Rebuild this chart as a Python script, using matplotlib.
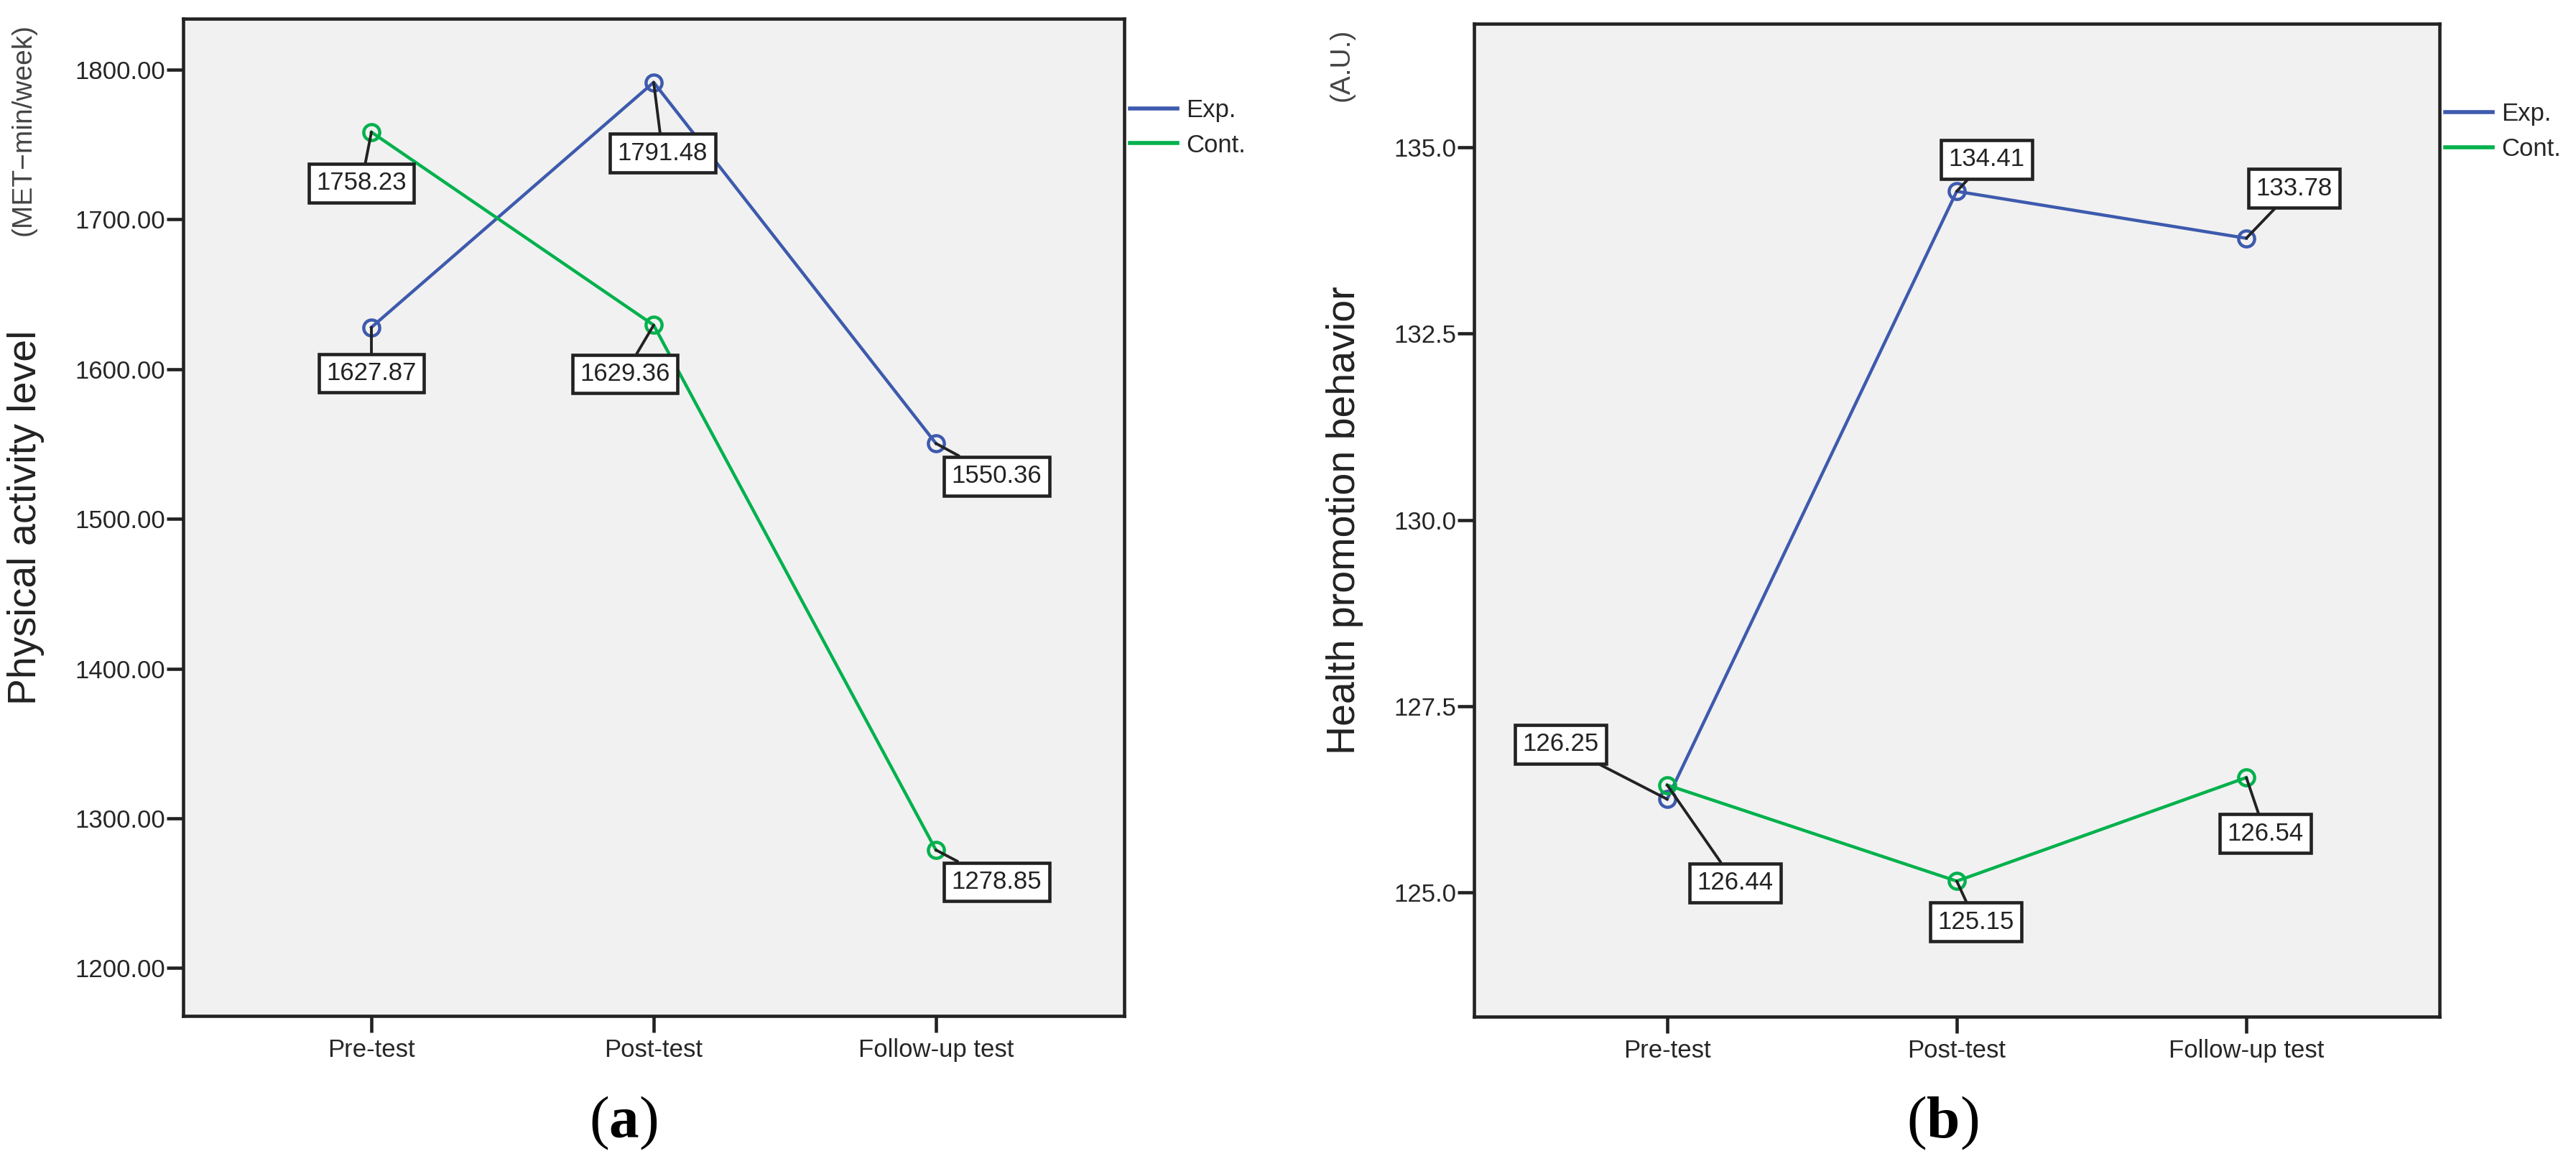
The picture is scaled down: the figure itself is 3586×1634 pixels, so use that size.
import matplotlib
matplotlib.use('Agg')
import matplotlib.pyplot as plt
from matplotlib.lines import Line2D
from matplotlib.ticker import FormatStrFormatter, MultipleLocator

# data
tests = ['Pre-test', 'Post-test', 'Follow-up test']
groups = ['Exp.', 'Cont.']
pa_exp = [1627.87, 1791.48, 1550.36]
pa_cont = [1758.23, 1629.36, 1278.85]
hpb_exp = [126.25, 134.41, 133.78]
hpb_cont = [126.44, 125.15, 126.54]

# label box offsets from each point (points)
pa_exp_off = [(0, -46), (9, -71), (61, -33)]
pa_cont_off = [(-10, -51), (-29, -49), (61, -32)]
hpb_exp_off = [(-107, 55), (30, 32), (48, 50)]
hpb_cont_off = [(68, -98), (19, -41), (19, -56)]

BLUE = '#3d5aad'
GREEN = '#00b14c'
INK = '#222222'
BG = '#f1f1f1'

plt.rcParams['font.family'] = ['Liberation Sans', 'DejaVu Sans']
plt.rcParams['mathtext.fontset'] = 'custom'
plt.rcParams['mathtext.rm'] = 'Liberation Serif'
plt.rcParams['mathtext.bf'] = 'Liberation Serif:bold'

fig = plt.figure(figsize=(35.86, 16.34), dpi=100)
ax1 = fig.add_axes([0.0711, 0.1346, 0.3653, 0.8495])
ax2 = fig.add_axes([0.5722, 0.1340, 0.3748, 0.8458])


def draw_panel(ax, exp, cont, exp_off, cont_off, ylim, step, fmt, ylabel, unit, lab_x, leg_y):
    x = list(range(len(tests)))
    ax.set_facecolor(BG)
    handles = []
    for vals, offs, col, name in [(exp, exp_off, BLUE, groups[0]), (cont, cont_off, GREEN, groups[1])]:
        ax.plot(x, vals, color=col, lw=3.2, marker='o', ms=16, mfc='none', mew=3.2, zorder=2)
        handles.append(Line2D([], [], color=col, lw=4, label=name))
        for i, v in enumerate(vals):
            ax.annotate(f'{v:.2f}', xy=(i, v), xytext=offs[i], textcoords='offset points',
                        ha='center', va='center', fontsize=25, color=INK,
                        bbox=dict(boxstyle='square,pad=0.3', fc='white', ec=INK, lw=3.3),
                        arrowprops=dict(arrowstyle='-', color=INK, lw=2.8, shrinkA=0, shrinkB=0),
                        zorder=4)
    ax.set_xlim(-0.667, 2.667)
    ax.set_ylim(*ylim)
    ax.set_xticks(x)
    ax.set_xticklabels(tests)
    ax.yaxis.set_major_locator(MultipleLocator(step))
    ax.yaxis.set_major_formatter(FormatStrFormatter(fmt))
    ax.tick_params(axis='both', direction='out', length=16.5, width=3.3, color=INK,
                   labelsize=25, labelcolor='#262626')
    ax.tick_params(axis='y', pad=1.5)
    ax.tick_params(axis='x', pad=6)
    for sp in ax.spines.values():
        sp.set_linewidth(3.3)
        sp.set_color(INK)
    ax.text(lab_x, 0.5, ylabel, transform=ax.transAxes, rotation=90, ha='center', va='center',
            fontsize=40, color=INK)
    ax.text(lab_x - 0.003, 0.995, unit, transform=ax.transAxes, rotation=90, ha='center', va='top',
            fontsize=28, color='#444444')
    ax.legend(handles=handles, loc='upper left', bbox_to_anchor=(1.006, leg_y), frameon=False,
              fontsize=25, handlelength=1.9, handletextpad=0.35, labelspacing=0.45, borderpad=0,
              borderaxespad=0, labelcolor='#262626')


draw_panel(ax1, pa_exp, pa_cont, pa_exp_off, pa_cont_off, (1168, 1834), 100, '%.2f',
           'Physical activity level', '(MET\u2212min/week)', -0.167, 0.920)
draw_panel(ax2, hpb_exp, hpb_cont, hpb_exp_off, hpb_cont_off, (123.33, 136.66), 2.5, '%.1f',
           'Health promotion behavior', '(A.U.)', -0.134, 0.921)

fig.text(868 / 3586, 1 - 1563 / 1634, r'($\mathbf{a}$)', ha='center', va='center',
         fontsize=60, family='Liberation Serif', color='black')
fig.text(2704 / 3586, 1 - 1563 / 1634, r'($\mathbf{b}$)', ha='center', va='center',
         fontsize=60, family='Liberation Serif', color='black')

fig.savefig('out.png', dpi=100, facecolor='white')
